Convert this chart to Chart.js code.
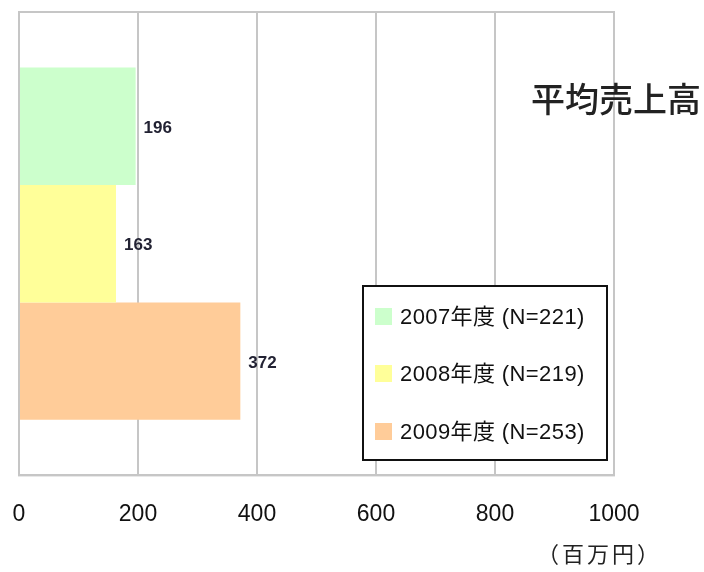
<!DOCTYPE html>
<html><head><meta charset="utf-8">
<script src="https://cdn.jsdelivr.net/npm/chart.js@4/dist/chart.umd.min.js"></script>
<style>html,body{margin:0;padding:0;background:#fff}#wrap{width:704px;height:572px;position:relative}</style>
</head><body><div id="wrap"><canvas id="c" width="704" height="572"></canvas></div>
<script>
const categories = [''];
const seriesNames = ['2007年度 (N=221)', '2008年度 (N=219)', '2009年度 (N=253)'];
const values2007 = [196];
const values2008 = [163];
const values2009 = [372];
const xTicks = [0, 200, 400, 600, 800, 1000];
const chartTitle = '平均売上高';
const unitLabel = '（百万円）';
const colors = ['#ccffcc', '#ffff99', '#ffcc99'];
const FONT = '"Liberation Sans", Arial, "Noto Sans CJK JP", sans-serif';

const overlay = {
  id: 'overlay',
  afterDatasetsDraw(chart) {
    const ctx = chart.ctx;
    ctx.save();
    // value labels
    ctx.font = 'bold 17px ' + FONT;
    ctx.fillStyle = '#223';
    ctx.textBaseline = 'middle';
    ctx.textAlign = 'left';
    chart.data.datasets.forEach((ds, i) => {
      const meta = chart.getDatasetMeta(i);
      meta.data.forEach((el, j) => {
        ctx.fillText(String(ds.data[j]), el.x + 8, el.y + 2);
      });
    });
    // title
    ctx.font = '500 34px "Noto Sans CJK JP", sans-serif';
    ctx.fillStyle = '#222';
    ctx.textAlign = 'right';
    ctx.textBaseline = 'middle';
    ctx.fillText(chartTitle, 701, 99);
    // unit
    ctx.font = '22px "Noto Sans CJK JP", sans-serif';
    ctx.letterSpacing = '3px';
    ctx.fillText(unitLabel, 662, 554);
    ctx.letterSpacing = '0px';
    // legend
    const lx = 363, ly = 286, lw = 244, lh = 174;
    ctx.fillStyle = '#fff';
    ctx.fillRect(lx, ly, lw, lh);
    ctx.lineWidth = 2;
    ctx.strokeStyle = '#111';
    ctx.strokeRect(lx, ly, lw, lh);
    ctx.textAlign = 'left';
    ctx.font = '22px ' + FONT;
    ctx.letterSpacing = '0.4px';
    const rows = [317, 374, 432];
    chart.data.datasets.forEach((ds, i) => {
      ctx.fillStyle = ds.backgroundColor;
      ctx.fillRect(lx + 12, rows[i] - 9, 17, 17);
      ctx.fillStyle = '#111';
      ctx.fillText(ds.label, lx + 37, rows[i] + 1);
    });
    ctx.restore();
  }
};

new Chart(document.getElementById('c'), {
  type: 'bar',
  data: {
    labels: categories,
    datasets: [
      { label: seriesNames[0], data: values2007, backgroundColor: colors[0] },
      { label: seriesNames[1], data: values2008, backgroundColor: colors[1] },
      { label: seriesNames[2], data: values2009, backgroundColor: colors[2] }
    ]
  },
  options: {
    indexAxis: 'y',
    responsive: false,
    animation: false,
    events: [],
    categoryPercentage: 0.76,
    barPercentage: 1,
    layout: { padding: { left: 19, right: 90, top: 12, bottom: 19 } },
    plugins: { legend: { display: false }, title: { display: false }, tooltip: { enabled: false } },
    scales: {
      x: {
        min: 0, max: 1000,
        afterBuildTicks(axis) { axis.ticks = xTicks.map(v => ({ value: v })); },
        afterFit(axis) { axis.paddingLeft = 0; axis.paddingRight = 0; },
        grid: { color: '#c6c6c6', lineWidth: 2, drawTicks: false },
        border: { color: '#c6c6c6', width: 2 },
        ticks: { padding: 25, color: '#111', font: { family: FONT, size: 23 }, maxRotation: 0,
                 callback: (v) => String(v) }
      },
      y: { display: false }
    }
  },
  plugins: [overlay, {
    id: 'frame',
    beforeDatasetsDraw(chart) {
      const { ctx, chartArea: ca } = chart;
      ctx.save();
      ctx.strokeStyle = '#c6c6c6';
      ctx.lineWidth = 2;
      ctx.strokeRect(ca.left, ca.top, ca.right - ca.left, ca.bottom - ca.top);
      ctx.restore();
    }
  }]
});
</script>
</body></html>
